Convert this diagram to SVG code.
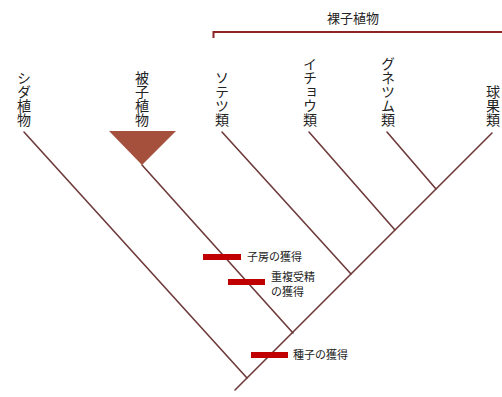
<svg xmlns="http://www.w3.org/2000/svg" width="502" height="397" viewBox="0 0 502 397">
<style>
.lbl{font-family:"Noto Sans CJK JP","Noto Sans CJK SC",sans-serif;font-size:14px;fill:#222;writing-mode:vertical-rl;text-anchor:end}
.t{font-family:"Noto Sans CJK JP","Noto Sans CJK SC",sans-serif;font-size:11px;fill:#222}
.br{stroke:#6e3a3a;stroke-width:1.6;fill:none;stroke-linecap:round}
.bar{stroke:#c00000;stroke-width:6}
</style>
<rect width="502" height="397" fill="#fff"/>
<g id="bracket">
<path d="M213.5 38 V32 H502" fill="none" stroke="#8c2424" stroke-width="2"/>
<text x="353" y="23" text-anchor="middle" class="t" style="font-size:13px">裸子植物</text>
</g>
<g id="connectors">
<line class="br" x1="235" y1="390" x2="492" y2="133"/>
<line class="br" x1="24" y1="132" x2="247" y2="378"/>
<line class="br" x1="142" y1="165" x2="293" y2="333"/>
<line class="br" x1="222" y1="132" x2="351" y2="274"/>
<line class="br" x1="309" y1="132" x2="395" y2="230"/>
<line class="br" x1="387" y1="132" x2="436" y2="189"/>
</g>
<g id="shida"><text class="lbl" x="24" y="127">シダ植物</text></g>
<g id="hishi">
<text class="lbl" x="142" y="127">被子植物</text>
<polygon points="109,131 176,131 142,165" fill="#a5503d"/>
</g>
<g id="sotetsu"><text class="lbl" x="222" y="127">ソテツ類</text></g>
<g id="ichou"><text class="lbl" x="310" y="127">イチョウ類</text></g>
<g id="gunetsumu"><text class="lbl" x="388" y="127">グネツム類</text></g>
<g id="kyuka"><text class="lbl" x="493" y="127">球果類</text></g>
<g id="shibou">
<line class="bar" x1="203" y1="257" x2="241" y2="257"/>
<text class="t" x="247" y="261">子房の獲得</text>
</g>
<g id="juufuku">
<line class="bar" x1="228" y1="282" x2="265" y2="282"/>
<text class="t" x="271" y="281">重複受精</text>
<text class="t" x="271" y="296">の獲得</text>
</g>
<g id="shushi">
<line class="bar" x1="251" y1="355" x2="288" y2="355"/>
<text class="t" x="293" y="359">種子の獲得</text>
</g>
</svg>
